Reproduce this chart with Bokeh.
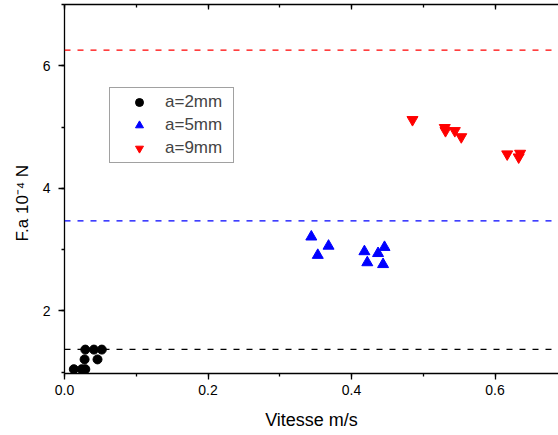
from bokeh.plotting import figure
from bokeh.models import (Range1d, LinearAxis, Span, Legend, LegendItem,
                          SingleIntervalTicker, NumeralTickFormatter)
from bokeh.embed import file_html
from bokeh.resources import INLINE

# ---- data ----
v_2mm = [0.013, 0.024, 0.029, 0.028, 0.046, 0.029, 0.041, 0.052]
f_2mm = [1.05, 1.05, 1.05, 1.21, 1.21, 1.37, 1.37, 1.37]

v_5mm = [0.344, 0.368, 0.353, 0.418, 0.422, 0.437, 0.446, 0.444]
f_5mm = [3.21, 3.06, 2.91, 2.97, 2.79, 2.94, 3.04, 2.76]

v_9mm = [0.485, 0.530, 0.531, 0.544, 0.553, 0.617, 0.635, 0.633]
f_9mm = [5.12, 4.99, 4.94, 4.94, 4.84, 4.56, 4.57, 4.51]

limit_values = [1.374, 3.47, 6.255]
limit_colors = ["#000000", "#0000FF", "#FF0000"]

labels = ["a=2mm", "a=5mm", "a=9mm"]
x_label = "Vitesse m/s"
y_label = "F.a 10\u207b\u2074 N" + "\u00a0" * 6

FONT = "Liberation Sans"

p = figure(width=558, height=435, output_backend="svg", toolbar_location=None,
           x_range=Range1d(0, 0.6885), y_range=Range1d(0.98, 7.0),
           min_border_left=64, min_border_right=0, min_border_top=4,
           min_border_bottom=62)
p.outline_line_color = None
p.xgrid.visible = False
p.ygrid.visible = False
p.background_fill_color = "white"
p.border_fill_color = "white"

for ax in (p.xaxis[0], p.yaxis[0]):
    ax.axis_line_color = "black"
    ax.axis_line_width = 1.3
    ax.major_tick_line_color = "black"
    ax.minor_tick_line_color = "black"
    ax.major_tick_line_width = 1.3
    ax.minor_tick_line_width = 1.3
    ax.major_tick_out = 6
    ax.major_tick_in = 0
    ax.minor_tick_out = 3
    ax.minor_tick_in = 0
    ax.major_label_text_font = FONT
    ax.major_label_text_font_size = "14px"
    ax.major_label_text_color = "black"
    ax.axis_label_text_font = FONT
    ax.axis_label_text_font_style = "normal"
    ax.axis_label_text_color = "black"

p.xaxis[0].ticker = SingleIntervalTicker(interval=0.2, num_minor_ticks=2)
p.xaxis[0].formatter = NumeralTickFormatter(format="0.0")
p.xaxis[0].major_label_standoff = 5
p.xaxis[0].axis_label = x_label
p.xaxis[0].axis_label_text_font_size = "18px"
p.xaxis[0].axis_label_standoff = 12

p.yaxis[0].ticker = SingleIntervalTicker(interval=2, num_minor_ticks=2)
p.yaxis[0].major_label_standoff = 8
p.yaxis[0].axis_label = y_label
p.yaxis[0].axis_label_text_font_size = "17px"
p.yaxis[0].axis_label_standoff = 8

top = LinearAxis(ticker=SingleIntervalTicker(interval=0.2, num_minor_ticks=2),
                 major_label_text_font_size="1px", major_label_text_color=None,
                 major_label_standoff=0,
                 major_tick_in=5, major_tick_out=0, minor_tick_in=3, minor_tick_out=0,
                 axis_line_width=1.3, major_tick_line_width=1.3, minor_tick_line_width=1.3,
                 axis_line_color="black")
p.add_layout(top, "above")

for val, col in zip(limit_values, limit_colors):
    p.add_layout(Span(location=val, dimension="width", line_color=col,
                      line_width=1.3, line_dash="6 7"))

r1 = p.scatter(v_2mm, f_2mm, marker="circle", size=9, fill_color="black", line_color="black")
r2 = p.scatter(v_5mm, f_5mm, marker="triangle", size=11, fill_color="#0000FF", line_color="#0000FF")
r3 = p.scatter(v_9mm, f_9mm, marker="inverted_triangle", size=11, fill_color="#FF0000", line_color="#FF0000")

legend = Legend(items=[LegendItem(label=labels[0], renderers=[r1]),
                       LegendItem(label=labels[1], renderers=[r2]),
                       LegendItem(label=labels[2], renderers=[r3])],
                location=(45, 210), padding=4, spacing=3,
                glyph_width=50, glyph_height=20, label_height=20, label_width=64,
                label_standoff=1, label_text_font=FONT, label_text_font_size="17px",
                border_line_color="#444444", border_line_width=1,
                background_fill_color="white", background_fill_alpha=1.0, margin=0)
p.add_layout(legend, "center")

open("out.html", "w").write(file_html(p, INLINE))
